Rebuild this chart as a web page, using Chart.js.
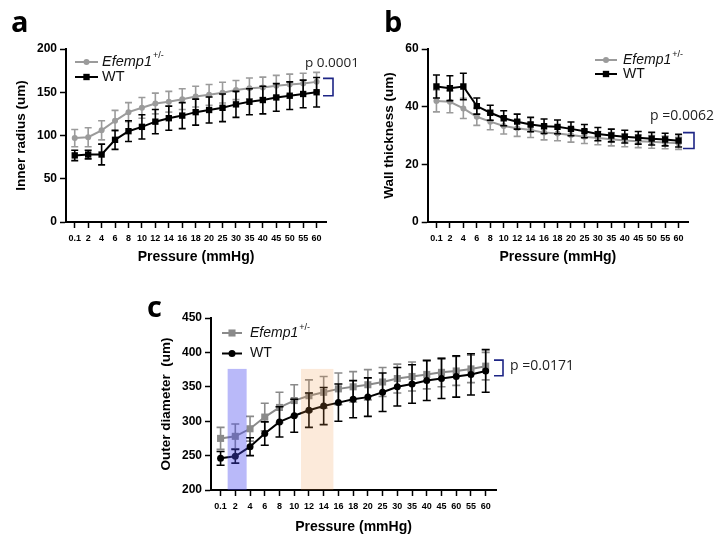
<!DOCTYPE html>
<html>
<head>
<meta charset="utf-8">
<script src="https://cdn.jsdelivr.net/npm/chart.js@4.4.0/dist/chart.umd.min.js"></script>
<style>
  html, body { margin: 0; padding: 0; background: #fff; }
  #wrap { position: relative; width: 718px; height: 537px; overflow: hidden; }
  #wrap canvas { position: absolute; left: 0; top: 0; }
</style>
</head>
<body>
<div id="wrap">
  <canvas id="chartA" width="718" height="537"></canvas>
  <canvas id="chartB" width="718" height="537"></canvas>
  <canvas id="chartC" width="718" height="537"></canvas>
</div>
<script>
// pressure steps (mmHg) - panel c has "60" printed where 50 should be, kept as in the figure
const pressureLabels = ['0.1','2','4','6','8','10','12','14','16','18','20','25','30','35','40','45','50','55','60'];
const pressureLabelsC = ['0.1','2','4','6','8','10','12','14','16','18','20','25','30','35','40','45','60','55','60'];

// a - inner radius (um), mean and SD
const efRadius   = [97, 98, 106, 117, 127, 132, 137, 139, 142, 145, 147, 149.5, 152.5, 154.5, 155.5, 157.5, 159, 160, 162];
const efRadiusSd = [10, 11, 11, 12, 11, 12, 12, 12, 12, 12, 12, 12, 11, 12, 12, 12, 12, 12, 11];
const wtRadius   = [77, 78, 78, 95, 105, 110, 116, 120, 123, 127, 129.5, 132, 136, 139, 141, 144, 146, 148, 150];
const wtRadiusSd = [6, 5, 12, 11, 12, 14, 14, 14, 15, 15, 15, 16, 15, 15, 16, 16, 16, 16, 17];

// b - wall thickness (um)
const efWall   = [42, 41.7, 39.4, 36.5, 34.8, 33.3, 32.5, 31.9, 31, 30.7, 30.2, 29.6, 29.1, 28.7, 28.3, 28, 27.8, 27.6, 27.3];
const efWallSd = [3.8, 3.8, 3.5, 3, 2.8, 2.8, 2.8, 2.6, 2.5, 2.5, 2.5, 2.4, 2.3, 2.3, 2.2, 2.2, 2.2, 2.2, 2.1];
const wtWall   = [47, 46.4, 47, 40.2, 37.9, 36, 34.8, 33.8, 33.2, 33, 32.3, 31.5, 30.5, 30, 29.6, 29.2, 28.9, 28.6, 28.2];
const wtWallSd = [4, 4.3, 4.6, 2.8, 2.6, 2.6, 2.6, 2.5, 2.5, 2.4, 2.4, 2.3, 2.3, 2.2, 2.2, 2.2, 2.2, 2.2, 2.2];

// c - outer diameter (um)
const efOuter   = [275, 278, 289, 306, 320, 330, 337, 342, 347, 350, 353, 357, 362, 365, 368, 371, 373, 376, 380];
const efOuterSd = [16, 18, 18, 20, 22, 23, 23, 23, 23, 22, 22, 21, 21, 21, 21, 21, 21, 20, 20];
const wtOuter   = [246, 249, 263, 282, 299, 308, 316, 322, 327, 332, 335, 342, 350, 354, 359, 362, 365, 368, 373];
const wtOuterSd = [10, 10, 13, 17, 22, 24, 25, 27, 27, 27, 28, 28, 28, 28, 29, 29, 30, 30, 31];

// highlighted pressure windows in c (in category index units) and their top (um)
const highlightRanges = [[0.48, 1.77], [5.46, 7.66]];
const highlightTop = 376;

const FONT = "'Liberation Sans', Arial, sans-serif";
const GRAY_AB = '#9b9b9b';
const GRAY_C = '#8a8a8a';

const toPoints = vals => vals.map((v, i) => ({ x: i, y: v }));

const errorBars = {
  id: 'errorBars',
  beforeDatasetDraw(chart, args, opts) {
    const ds = chart.data.datasets[args.index];
    if (!ds.errors) return;
    const ctx = chart.ctx, y = chart.scales.y;
    ctx.save();
    ctx.strokeStyle = ds.borderColor;
    ctx.lineWidth = 1.6;
    args.meta.data.forEach((pt, i) => {
      const v = ds.data[i].y, e = ds.errors[i];
      const yt = y.getPixelForValue(v + e), yb = y.getPixelForValue(v - e);
      ctx.beginPath();
      ctx.moveTo(pt.x, yt); ctx.lineTo(pt.x, yb);
      ctx.moveTo(pt.x - opts.cap, yt); ctx.lineTo(pt.x + opts.cap, yt);
      ctx.moveTo(pt.x - opts.cap, yb); ctx.lineTo(pt.x + opts.cap, yb);
      ctx.stroke();
    });
    ctx.restore();
  }
};

function drawMarker(ctx, style, x, y, r, color) {
  ctx.fillStyle = color;
  ctx.beginPath();
  if (style === 'rect') {
    const s = r * Math.SQRT1_2;
    ctx.rect(x - s, y - s, 2 * s, 2 * s);
  } else {
    ctx.arc(x, y, r, 0, Math.PI * 2);
  }
  ctx.fill();
}

const sketchLegend = {
  id: 'sketchLegend',
  afterDraw(chart, args, o) {
    const ctx = chart.ctx;
    chart.data.datasets.forEach((ds, i) => {
      const y = o.y + i * o.row;
      ctx.save();
      ctx.strokeStyle = ds.borderColor;
      ctx.lineWidth = 2;
      ctx.beginPath();
      ctx.moveTo(o.x, y); ctx.lineTo(o.x + o.len, y);
      ctx.stroke();
      drawMarker(ctx, ds.pointStyle, o.x + o.len / 2, y, ds.pointRadius, ds.borderColor);
      ctx.fillStyle = '#111';
      ctx.textBaseline = 'middle';
      let tx = o.x + o.len + o.gap;
      ds.legendParts.forEach(p => {
        if (p.sup) {
          ctx.font = `${Math.round(o.size * 0.62)}px ${FONT}`;
          ctx.fillText(p.t, tx + 1, y - o.size * 0.42);
          tx += ctx.measureText(p.t).width + 1;
        } else {
          ctx.font = `${p.italic ? 'italic ' : ''}${o.size}px ${FONT}`;
          ctx.fillText(p.t, tx, y);
          tx += ctx.measureText(p.t).width;
        }
      });
      ctx.restore();
    });
  }
};

const pBracket = {
  id: 'pBracket',
  afterDraw(chart, args, o) {
    const { ctx, chartArea } = chart;
    const y = chart.scales.y;
    const yt = y.getPixelForValue(o.hi), yb = y.getPixelForValue(o.lo);
    const x1 = chartArea.right + o.reach, x0 = x1 - o.arm;
    ctx.save();
    ctx.strokeStyle = '#1d2585';
    ctx.lineWidth = 1.6;
    ctx.beginPath();
    ctx.moveTo(x0, yt); ctx.lineTo(x1, yt); ctx.lineTo(x1, yb); ctx.lineTo(x0, yb);
    ctx.stroke();
    ctx.font = `${o.size}px 'Open Sans', sans-serif`;
    ctx.fillStyle = '#222';
    ctx.textBaseline = 'alphabetic';
    ctx.fillText(o.text, x1 + o.dx, yt + o.dy);
    // panel letter
    ctx.font = `bold 29px 'Open Sans', ${FONT}`;
    ctx.fillStyle = '#000';
    ctx.fillText(o.letter, o.lx, o.ly);
    ctx.restore();
  }
};

const shades = {
  id: 'shades',
  afterDatasetsDraw(chart, args, o) {
    if (!o.ranges) return;
    const { ctx, chartArea } = chart;
    const x = chart.scales.x, y = chart.scales.y;
    ctx.save();
    o.ranges.forEach((r, i) => {
      const xl = x.getPixelForValue(r[0]), xr = x.getPixelForValue(r[1]);
      const yt = y.getPixelForValue(o.top);
      ctx.fillStyle = o.colors[i];
      ctx.fillRect(xl, yt, xr - xl, chartArea.bottom - yt);
    });
    ctx.restore();
  }
};

function makeChart(id, cfg) {
  const tickFont = { family: FONT, weight: 'bold', size: 12 };
  return new Chart(document.getElementById(id), {
    type: 'line',
    data: {
      datasets: [
        {
          label: 'Efemp1+/-',
          legendParts: [{ t: 'Efemp1', italic: true }, { t: '+/-', sup: true }],
          data: toPoints(cfg.ef), errors: cfg.efSd,
          borderColor: cfg.gray, backgroundColor: cfg.gray, borderWidth: 2,
          pointStyle: cfg.efStyle, pointRadius: cfg.efR, pointBorderWidth: 0,
          tension: 0, order: 1
        },
        {
          label: 'WT',
          legendParts: [{ t: 'WT' }],
          data: toPoints(cfg.wt), errors: cfg.wtSd,
          borderColor: '#000', backgroundColor: '#000', borderWidth: 2,
          pointStyle: cfg.wtStyle, pointRadius: cfg.wtR, pointBorderWidth: 0,
          tension: 0, order: 0
        }
      ]
    },
    options: {
      responsive: false,
      animation: false,
      devicePixelRatio: 1,
      events: [],
      layout: { padding: cfg.pad },
      plugins: {
        legend: { display: false },
        tooltip: { enabled: false },
        errorBars: { cap: cfg.cap },
        sketchLegend: cfg.legend,
        pBracket: cfg.bracket,
        shades: cfg.shades || {}
      },
      scales: {
        x: {
          type: 'linear', min: -0.65, max: 18.7,
          afterBuildTicks: s => { s.ticks = cfg.labels.map((_, i) => ({ value: i })); },
          afterFit: s => { s.height = cfg.xHeight; },
          ticks: {
            callback: v => cfg.labels[v],
            autoSkip: false, maxRotation: 0, minRotation: 0,
            font: { family: FONT, weight: 'bold', size: 9 }, color: '#000', padding: 5
          },
          grid: { drawOnChartArea: false, drawTicks: true, tickLength: 6, tickWidth: 1.5, color: '#000' },
          border: { color: '#000', width: 2 },
          title: {
            display: true, text: 'Pressure (mmHg)', color: '#000',
            font: { family: FONT, weight: 'bold', size: 14 },
            padding: { top: 0, bottom: cfg.xTitlePad }
          }
        },
        y: {
          min: cfg.yMin, max: cfg.yMax,
          afterFit: s => { s.width = 62; },
          ticks: { stepSize: cfg.yStep, font: tickFont, color: '#000', padding: 3 },
          grid: { drawOnChartArea: false, drawTicks: true, tickLength: 6, tickWidth: 1.5, color: '#000' },
          border: { color: '#000', width: 2 },
          title: {
            display: true, text: cfg.yTitle, color: '#000',
            font: { family: FONT, weight: 'bold', size: 13.5 },
            padding: { top: cfg.yTitlePad, bottom: 0 }
          }
        }
      }
    },
    plugins: [shades, errorBars, sketchLegend, pBracket]
  });
}

makeChart('chartA', {
  labels: pressureLabels,
  ef: efRadius, efSd: efRadiusSd, wt: wtRadius, wtSd: wtRadiusSd,
  gray: GRAY_AB, efStyle: 'circle', efR: 3, wtStyle: 'rect', wtR: 4.5, cap: 3.5,
  yMin: 0, yMax: 200, yStep: 50, yTitle: 'Inner radius (um)', yTitlePad: 9,
  pad: { left: 4, top: 49, right: 392, bottom: 267 }, xHeight: 48, xTitlePad: 4.6,
  legend: { x: 75, y: 62, row: 15, len: 23, gap: 4, size: 14.5 },
  bracket: { hi: 166, lo: 146, reach: 7, arm: 10, dx: -28, dy: -11, size: 13.5, text: 'p 0.0001', letter: 'a', lx: 11, ly: 32 }
});

makeChart('chartB', {
  labels: pressureLabels,
  ef: efWall, efSd: efWallSd, wt: wtWall, wtSd: wtWallSd,
  gray: GRAY_AB, efStyle: 'circle', efR: 3, wtStyle: 'rect', wtR: 4.5, cap: 3.5,
  yMin: 0, yMax: 60, yStep: 20, yTitle: 'Wall thickness (um)', yTitlePad: 15.7,
  pad: { left: 365.7, top: 49, right: 30, bottom: 267 }, xHeight: 48, xTitlePad: 4.6,
  legend: { x: 595, y: 60, row: 14, len: 22, gap: 6, size: 14 },
  bracket: { hi: 31, lo: 25.5, reach: 6, arm: 11, dx: -44, dy: -12.6, size: 14, text: 'p =0.0062', letter: 'b', lx: 384, ly: 32 }
});

makeChart('chartC', {
  labels: pressureLabelsC,
  ef: efOuter, efSd: efOuterSd, wt: wtOuter, wtSd: wtOuterSd,
  gray: GRAY_C, efStyle: 'rect', efR: 5, wtStyle: 'circle', wtR: 3.5, cap: 4,
  yMin: 200, yMax: 450, yStep: 50, yTitle: 'Outer diameter  (um)', yTitlePad: 9.2,
  pad: { left: 149, top: 318, right: 222, bottom: 0 }, xHeight: 47, xTitlePad: 1.9,
  legend: { x: 222, y: 333, row: 20.5, len: 20, gap: 8, size: 14 },
  bracket: { hi: 388.7, lo: 366, reach: 7, arm: 9, dx: 7, dy: 10, size: 14, text: 'p =0.0171', letter: 'c', lx: 147, ly: 317 },
  shades: { ranges: highlightRanges, top: highlightTop, colors: ['rgba(70,70,240,0.38)', 'rgba(240,150,70,0.2)'] }
});
</script>
</body>
</html>
